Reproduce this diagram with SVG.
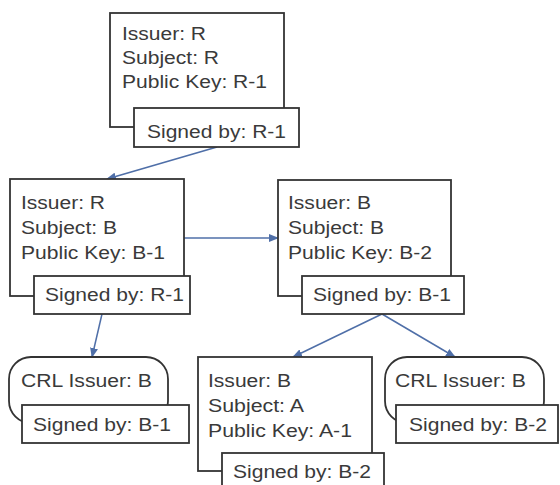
<svg xmlns="http://www.w3.org/2000/svg" width="560" height="485" viewBox="0 0 560 485">
<style>
.box{fill:#fff;stroke:#333;stroke-width:1.8}
.t{font-family:"Liberation Sans",Arial,sans-serif;font-size:18px;fill:#3a3a3a}
.c{stroke:#4f6fa8;stroke-width:1.5;fill:none;marker-end:url(#ah)}
</style>
<defs>
<marker id="ah" markerWidth="10" markerHeight="8" refX="9" refY="4" orient="auto" markerUnits="userSpaceOnUse">
<path d="M0,0 L10,4 L0,8 Z" fill="#4f6fa8"/>
</marker>
</defs>
<rect width="560" height="485" fill="#fff"/>
<g id="connectors">
<line class="c" x1="217" y1="147" x2="107" y2="179"/>
<line class="c" x1="184" y1="238" x2="278" y2="238"/>
<line class="c" x1="102" y1="314" x2="92" y2="357"/>
<line class="c" x1="382" y1="314" x2="293" y2="357"/>
<line class="c" x1="382" y1="314" x2="455" y2="357"/>
</g>
<g id="certR">
<rect class="box" x="110" y="13" width="174" height="114"/>
<text class="t" x="122" y="40" textLength="84" lengthAdjust="spacingAndGlyphs">Issuer: R</text>
<text class="t" x="122" y="64" textLength="97" lengthAdjust="spacingAndGlyphs">Subject: R</text>
<text class="t" x="122" y="88" textLength="145" lengthAdjust="spacingAndGlyphs">Public Key: R-1</text>
<rect class="box" x="134" y="108" width="165" height="39"/>
<text class="t" x="147" y="138" textLength="139" lengthAdjust="spacingAndGlyphs">Signed by: R-1</text>
</g>
<g id="certB1">
<rect class="box" x="10" y="179" width="174" height="117"/>
<text class="t" x="21" y="209" textLength="84" lengthAdjust="spacingAndGlyphs">Issuer: R</text>
<text class="t" x="21" y="234" textLength="96" lengthAdjust="spacingAndGlyphs">Subject: B</text>
<text class="t" x="21" y="259" textLength="144" lengthAdjust="spacingAndGlyphs">Public Key: B-1</text>
<rect class="box" x="34" y="276" width="156" height="38"/>
<text class="t" x="45" y="301" textLength="139" lengthAdjust="spacingAndGlyphs">Signed by: R-1</text>
</g>
<g id="certB2">
<rect class="box" x="278" y="180" width="173" height="116"/>
<text class="t" x="288" y="209" textLength="83" lengthAdjust="spacingAndGlyphs">Issuer: B</text>
<text class="t" x="288" y="234" textLength="96" lengthAdjust="spacingAndGlyphs">Subject: B</text>
<text class="t" x="288" y="259" textLength="144" lengthAdjust="spacingAndGlyphs">Public Key: B-2</text>
<rect class="box" x="302" y="276" width="162" height="38"/>
<text class="t" x="313" y="301" textLength="138" lengthAdjust="spacingAndGlyphs">Signed by: B-1</text>
</g>
<g id="crl1">
<rect class="box" x="9" y="357" width="159" height="66" rx="22" ry="22"/>
<text class="t" x="21" y="387" textLength="131" lengthAdjust="spacingAndGlyphs">CRL Issuer: B</text>
<rect class="box" x="22" y="405" width="167" height="38"/>
<text class="t" x="33" y="431" textLength="138" lengthAdjust="spacingAndGlyphs">Signed by: B-1</text>
</g>
<g id="certA">
<rect class="box" x="198" y="357" width="174" height="114"/>
<text class="t" x="208" y="387" textLength="83" lengthAdjust="spacingAndGlyphs">Issuer: B</text>
<text class="t" x="208" y="412" textLength="96" lengthAdjust="spacingAndGlyphs">Subject: A</text>
<text class="t" x="208" y="437" textLength="144" lengthAdjust="spacingAndGlyphs">Public Key: A-1</text>
<rect class="box" x="222" y="453" width="162" height="38"/>
<text class="t" x="233" y="478" textLength="138" lengthAdjust="spacingAndGlyphs">Signed by: B-2</text>
</g>
<g id="crl2">
<rect class="box" x="385" y="357" width="159" height="66" rx="22" ry="22"/>
<text class="t" x="395" y="387" textLength="131" lengthAdjust="spacingAndGlyphs">CRL Issuer: B</text>
<rect class="box" x="396" y="405" width="162" height="38"/>
<text class="t" x="409" y="431" textLength="138" lengthAdjust="spacingAndGlyphs">Signed by: B-2</text>
</g>
</svg>
